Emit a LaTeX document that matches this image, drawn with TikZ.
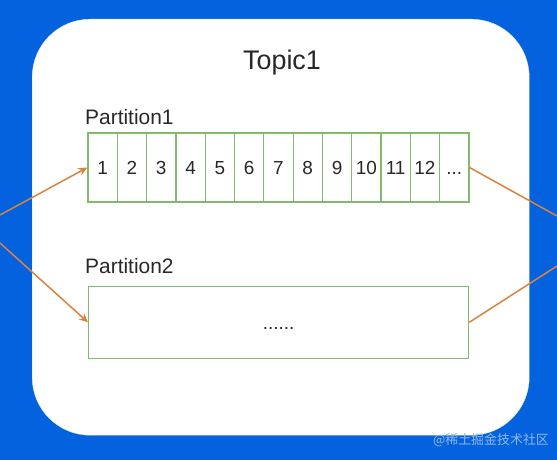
\documentclass[tikz,border=0pt]{standalone}
\usepackage{fontspec}
\setmainfont{Liberation Sans}
\newfontfamily\cjk{Noto Sans CJK SC}
\usetikzlibrary{positioning,arrows.meta}
\definecolor{bgblue}{RGB}{4,98,222}
\definecolor{cellgreen}{RGB}{130,185,110}
\definecolor{linkorange}{RGB}{218,130,62}
\definecolor{inktext}{RGB}{40,40,40}
\newcommand\celldots{...}

\begin{document}
\begin{tikzpicture}[x=1bp,y=-1bp,
  cell/.style={draw=cellgreen,line width=1.2bp,minimum width=29.3bp,minimum height=69bp,
    inner sep=0pt,text height=13.6bp,text depth=0bp,text=inktext,font=\fontsize{19}{22}\selectfont},
  link/.style={draw=linkorange,line width=1.5bp},
  lbl/.style={inner sep=0pt,anchor=west,text=inktext,font=\fontsize{21}{24}\selectfont}]
\fill[bgblue] (0,0) rectangle (557,460);
\useasboundingbox (0,0) rectangle (557,460);
\node[draw=cellgreen!30,fill=white,rounded corners=58bp,minimum width=497bp,minimum height=416bp,
  anchor=north west] (topic) at (32,19) {};
\node[text=inktext,font=\fontsize{27}{30}\selectfont] (title) at (282,63) {Topic1};

% partition 1
\node[lbl] (p1lbl) at (85,117) {Partition1};
\foreach \i/\t in {1/1,2/2,3/3,4/4,5/5,6/6,7/7,8/8,9/9,10/10,11/11,12/12,13/\celldots}
  \node[cell] (c\i) at ({88+(\i-0.5)*29.3},167.5) {\t};

% partition 2
\node[lbl] (p2lbl) at (85,266) {Partition2};
\node[draw=cellgreen,line width=1.2bp,minimum width=380bp,minimum height=72.5bp,
  text height=13.6bp,text depth=0bp,anchor=north west,text=inktext,
  font=\fontsize{19}{22}\selectfont] (p2) at (88,285.5) {......};

% links in and out
\coordinate (in1) at (0,215);
\coordinate (in2) at (0,243);
\coordinate (out1) at (557,216);
\coordinate (out2) at (557,266);
\draw[link,-{Stealth[length=9bp,width=8bp]}] (in1) -- (c1.west);
\draw[link,-{Stealth[length=9bp,width=8bp]}] (in2) -- (p2.west);
\draw[link] (c13.east) -- (out1);
\draw[link] (p2.east) -- (out2);

\node[text=bgblue!45!white,font=\cjk\fontsize{13}{15}\selectfont] (mark) at (491,440) {@稀土掘金技术社区};
\end{tikzpicture}
\end{document}
